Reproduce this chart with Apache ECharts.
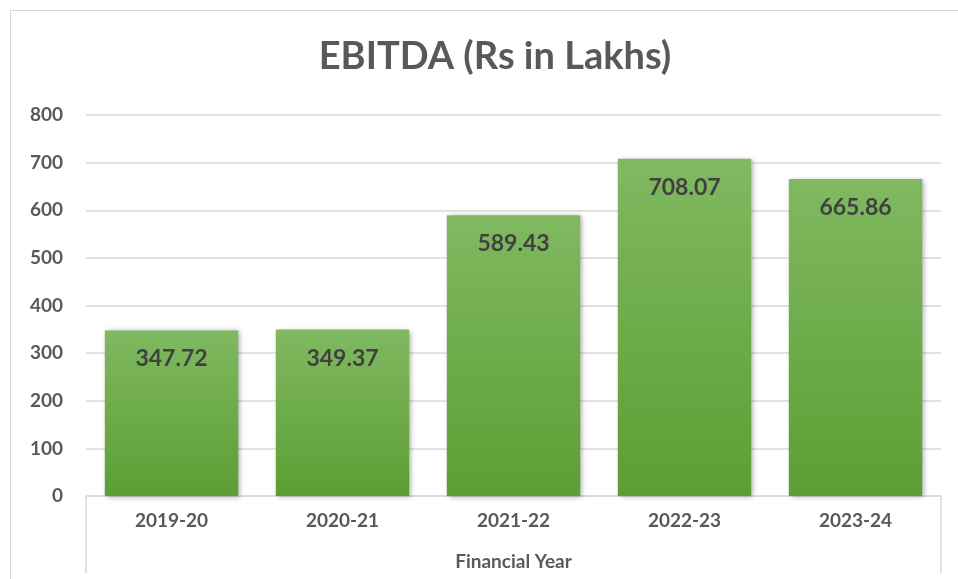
<!DOCTYPE html>
<html>
<head>
<meta charset="utf-8">
<script src="https://cdn.jsdelivr.net/npm/echarts@6/dist/echarts.min.js"></script>
<style>
  html, body { margin: 0; padding: 0; background: #fff; overflow: hidden; }
  #frame {
    position: absolute; left: 10px; top: 10px;
    width: 1000px; height: 620px;
    border: 1.5px solid #d9d9d9;
  }
  #chart { position: absolute; left: 0; top: 0; width: 958px; height: 579px; }
</style>
</head>
<body>
<div id="frame"></div>
<div id="chart"></div>
<script>
const years = ['2019-20', '2020-21', '2021-22', '2022-23', '2023-24']
const ebitda = [347.72, 349.37, 589.43, 708.07, 665.86]
const yTicks = { min: 0, max: 800, interval: 100 }

const textGrey = '#595959'
const gridGrey = '#d9d9d9'
const font = 'Lato, "Open Sans", sans-serif'

const chart = echarts.init(document.getElementById('chart'), null, { renderer: 'canvas' })

const option = {
  animation: false,
  title: {
    text: 'EBITDA (Rs in Lakhs)',
    left: 490,
    top: 33,
    textAlign: 'center',
    textStyle: { color: textGrey, fontSize: 38, fontWeight: 'bold', fontFamily: font }
  },
  grid: { left: 86, right: 17, top: 115, bottom: 83 },
  xAxis: [
    {
      type: 'category',
      position: 'bottom',
      data: years,
      axisLine: { show: true, lineStyle: { color: gridGrey, width: 1.5 } },
      axisTick: { show: false },
      axisLabel: { color: textGrey, fontSize: 19, fontWeight: 'bold', fontFamily: font, margin: 15 },
      name: 'Financial Year',
      nameLocation: 'middle',
      nameGap: 56,
      nameTextStyle: { color: textGrey, fontSize: 19, fontWeight: 'bold', fontFamily: font }
    },
    {
      // outer box lines at both ends of the category axis
      type: 'category',
      position: 'bottom',
      data: [''],
      axisLine: { show: false },
      axisTick: { show: true, length: 77, lineStyle: { color: gridGrey, width: 1.5 } },
      axisLabel: { show: false }
    }
  ],
  yAxis: {
    type: 'value',
    min: yTicks.min,
    max: yTicks.max,
    interval: yTicks.interval,
    axisLine: { show: false },
    axisTick: { show: false },
    axisLabel: { color: textGrey, fontSize: 19, fontWeight: 'bold', fontFamily: font, margin: 23 },
    splitLine: { lineStyle: { color: gridGrey, width: 1.5 } }
  },
  series: [{
    type: 'bar',
    data: ebitda,
    barCategoryGap: '22%',
    itemStyle: {
      color: new echarts.graphic.LinearGradient(0, 0, 0, 1, [
        { offset: 0, color: '#80b961' },
        { offset: 1, color: '#5c9e33' }
      ]),
      shadowBlur: 5,
      shadowColor: 'rgba(0,0,0,0.35)',
      shadowOffsetX: 2,
      shadowOffsetY: 1
    },
    label: {
      show: true,
      position: 'insideTop',
      distance: 17,
      color: '#404040',
      fontSize: 23,
      fontWeight: 'bold',
      fontFamily: font,
      formatter: p => p.value.toFixed(2)
    }
  }]
}

chart.setOption(option)
</script>
</body>
</html>
